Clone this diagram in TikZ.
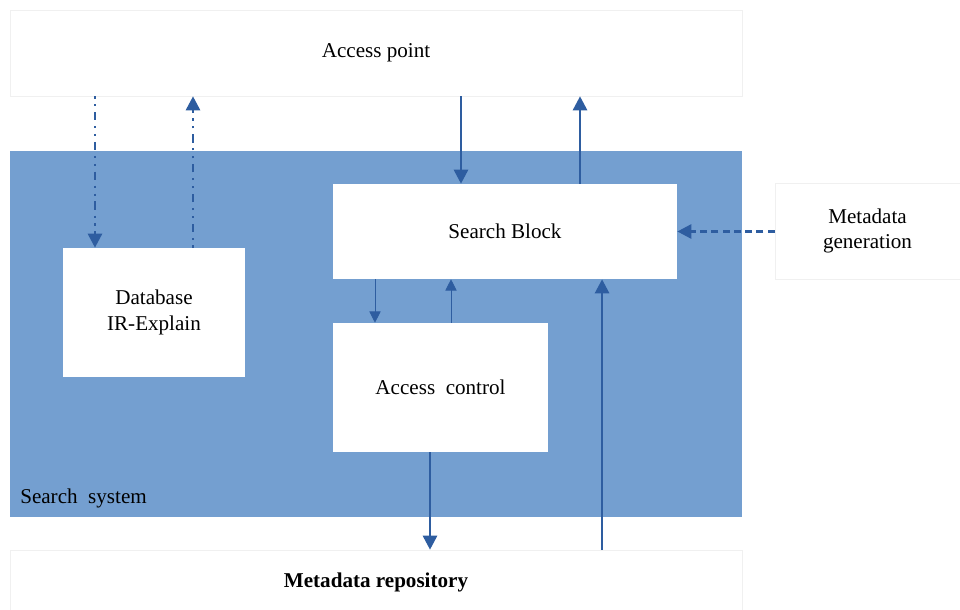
\documentclass[tikz,border=0pt]{standalone}
\usepackage{fontspec}
\setmainfont{Liberation Serif}
\usetikzlibrary{arrows.meta, positioning}
\definecolor{sysblue}{RGB}{116,159,208}
\definecolor{linkblue}{RGB}{46,93,160}
\tikzstyle{outerbox} = [rectangle,
draw=black!6,
fill=white,
text centered,
font=\fontsize{15}{18}\selectfont]
\tikzstyle{innerbox} = [rectangle,
fill=white,
text centered,
align=center,
font=\fontsize{15}{18}\selectfont]
\tikzstyle{arrow} = [draw=linkblue, line width=1.9pt, -{Triangle[width=10pt,length=10pt]}, color=linkblue]
\tikzstyle{thinarrow} = [draw=linkblue, line width=0.6pt, -{Triangle[width=8pt,length=8pt]}, color=linkblue]
\tikzstyle{dashdotdot} = [dash pattern=on 1.6pt off 4pt on 1.6pt off 4pt on 6pt off 4pt]

\begin{document}
\begin{tikzpicture}[x=0.025cm, y=-0.025cm]
	\useasboundingbox (0,0) rectangle (960,610);
	\node (access) [outerbox, minimum width=18.3cm, minimum height=2.15cm] at (376,53) {Access point};
	\node (sys) [rectangle, fill=sysblue, minimum width=18.3cm, minimum height=9.15cm] at (376,334) {};
	\node (syslabel) [anchor=south west, inner sep=0pt, font=\fontsize{15}{18}\selectfont] at (20,508) {Search~ system};
	\node (search) [innerbox, minimum width=8.6cm, minimum height=2.375cm] at (505,231.5) {Search Block};
	\node (db) [innerbox, minimum width=4.55cm, minimum height=3.225cm] at (154,312.5) {Database\\IR-Explain};
	\node (ac) [innerbox, minimum width=5.375cm, minimum height=3.225cm] at (440.5,387.5) {Access~ control};
	\node (gen) [outerbox, align=center, minimum width=4.625cm, minimum height=2.4cm] at (867.5,231) {Metadata\\generation};
	\node (repo) [outerbox, minimum width=18.3cm, minimum height=1.6cm] at (376,582) {\textbf{Metadata repository}};

	% access point <-> database
	\coordinate (d1) at ([xshift=-1.475cm]db.north);
	\coordinate (d2) at ([xshift=0.975cm]db.north);
	\draw [arrow, dashdotdot] (access.south -| d1) -- (d1);
	\draw [arrow, dashdotdot] (d2) -- (access.south -| d2);

	% access point <-> search block
	\coordinate (s1) at ([xshift=-1.1cm]search.north);
	\coordinate (s2) at ([xshift=1.875cm]search.north);
	\draw [arrow] (access.south -| s1) -- (s1);
	\draw [arrow] (s2) -- (access.south -| s2);

	% search block <-> access control
	\coordinate (a1) at ([xshift=-1.6375cm]ac.north);
	\coordinate (a2) at ([xshift=0.2625cm]ac.north);
	\draw [thinarrow] (search.south -| a1) -- (a1);
	\draw [thinarrow] (a2) -- (search.south -| a2);

	% metadata generation -> search block
	\draw [arrow, dash pattern=on 5pt off 3pt] (gen.west |- search.east) -- (search.east);

	% access control / repository
	\coordinate (r1) at ([xshift=-0.2625cm]ac.south);
	\coordinate (r2) at ([xshift=5.65cm]repo.north);
	\draw [arrow] (r1) -- (repo.north -| r1);
	\draw [arrow] (r2) -- (search.south -| r2);
\end{tikzpicture}
\end{document}
